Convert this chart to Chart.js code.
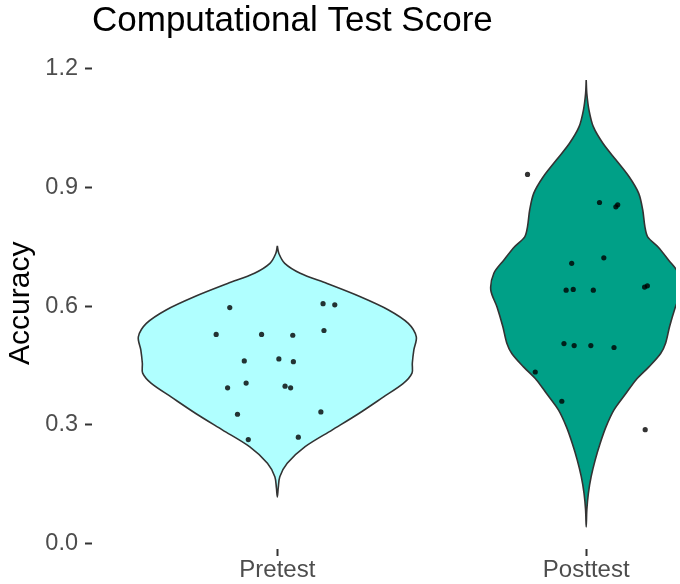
<!DOCTYPE html>
<html>
<head>
<meta charset="utf-8">
<script src="https://cdn.jsdelivr.net/npm/chart.js@4/dist/chart.umd.min.js"></script>
<style>
  html, body { margin: 0; padding: 0; background: #ffffff; overflow: hidden; }
  #wrap { width: 680px; height: 584px; }
</style>
</head>
<body>
<div id="wrap"><canvas id="c" width="680" height="584"></canvas></div>
<script>
// ---- data ----
const categories = ['Pretest', 'Posttest'];
const yTicks = [0, 0.3, 0.6, 0.9, 1.2];

const pretestScores = [0.596, 0.606, 0.603, 0.528, 0.528, 0.526, 0.538, 0.461, 0.466, 0.459, 0.393, 0.405, 0.397, 0.393, 0.326, 0.332, 0.262, 0.268];
const pretestJitter = [-0.154, 0.148, 0.186, -0.198, -0.051, 0.050, 0.151, -0.107, 0.005, 0.052, -0.161, -0.101, 0.025, 0.043, -0.129, 0.141, -0.094, 0.068];

const posttestScores = [0.933, 0.862, 0.851, 0.856, 0.722, 0.708, 0.640, 0.642, 0.640, 0.648, 0.651, 0.505, 0.500, 0.500, 0.495, 0.433, 0.359, 0.287];
const posttestJitter = [-0.190, 0.043, 0.096, 0.102, 0.057, -0.047, -0.065, -0.042, 0.023, 0.189, 0.198, -0.072, -0.039, 0.015, 0.090, -0.165, -0.079, 0.191];

// violin outlines: accuracy level and half width (category units)
const pretestDensityY = [0.752, 0.733, 0.708, 0.683, 0.657, 0.624, 0.590, 0.556, 0.522, 0.489, 0.455, 0.430, 0.404, 0.370, 0.328, 0.286, 0.244, 0.202, 0.168, 0.140, 0.117];
const pretestHalfWidth = [0, 0.005, 0.024, 0.074, 0.161, 0.267, 0.360, 0.424, 0.450, 0.442, 0.437, 0.436, 0.408, 0.344, 0.264, 0.177, 0.090, 0.032, 0.008, 0.003, 0];

const posttestDensityY = [1.172, 1.138, 1.096, 1.054, 1.012, 0.970, 0.927, 0.885, 0.843, 0.801, 0.775, 0.750, 0.716, 0.683, 0.641, 0.598, 0.548, 0.506, 0.480, 0.446, 0.413, 0.379, 0.337, 0.294, 0.252, 0.210, 0.168, 0.126, 0.084, 0.041];
const posttestHalfWidth = [0, 0.002, 0.009, 0.023, 0.054, 0.096, 0.139, 0.170, 0.183, 0.190, 0.199, 0.232, 0.267, 0.299, 0.309, 0.289, 0.270, 0.257, 0.241, 0.203, 0.161, 0.129, 0.090, 0.064, 0.045, 0.029, 0.016, 0.007, 0.002, 0];

// ---- build datasets ----
function violinOutline(center, ys, hws) {
  const pts = [];
  for (let i = 0; i < ys.length; i++) pts.push({x: center + hws[i], y: ys[i]});
  for (let i = ys.length - 2; i >= 0; i--) pts.push({x: center - hws[i], y: ys[i]});
  return pts;
}
function jittered(center, scores, jit) {
  return scores.map((s, i) => ({x: center + jit[i], y: s}));
}

const FONT = '"Liberation Sans", Arial, Helvetica, sans-serif';
const outline = '#333333';
const dot = 'rgba(0,0,0,0.8)';

const datasets = [
  {
    label: 'Pretest violin',
    data: violinOutline(1, pretestDensityY, pretestHalfWidth),
    showLine: true, fill: 'shape', tension: 0.3,
    backgroundColor: '#B0FFFF', borderColor: outline, borderWidth: 1.6,
    pointRadius: 0, order: 2
  },
  {
    label: 'Posttest violin',
    data: violinOutline(2, posttestDensityY, posttestHalfWidth),
    showLine: true, fill: 'shape', tension: 0.3,
    backgroundColor: '#00A087', borderColor: outline, borderWidth: 1.6,
    pointRadius: 0, order: 2
  },
  {
    label: 'Pretest',
    data: jittered(1, pretestScores, pretestJitter),
    showLine: false, pointRadius: 2.6, pointBorderWidth: 0,
    pointBackgroundColor: dot, backgroundColor: dot, order: 0
  },
  {
    label: 'Posttest',
    data: jittered(2, posttestScores, posttestJitter),
    showLine: false, pointRadius: 2.6, pointBorderWidth: 0,
    pointBackgroundColor: dot, backgroundColor: dot, order: 0
  }
];

new Chart(document.getElementById('c'), {
  type: 'scatter',
  data: { datasets },
  options: {
    responsive: false,
    animation: false,
    events: [],
    layout: { padding: { left: 0, right: 0, top: 0, bottom: 0 } },
    plugins: {
      legend: { display: false },
      tooltip: { enabled: false },
      title: {
        display: true,
        text: 'Computational Test Score',
        align: 'start',
        fullSize: false,
        color: '#000000',
        font: { family: FONT, size: 35, weight: 'normal', lineHeight: 1.2 },
        padding: { top: 0, bottom: 15.5 }
      }
    },
    scales: {
      x: {
        type: 'linear',
        min: 0.4,
        max: 2.2907,
        afterBuildTicks: (s) => { s.ticks = categories.map((c, i) => ({value: i + 1})); },
        afterFit: (s) => { s.height = 35; },
        ticks: {
          callback: (v) => categories[Math.round(v) - 1] || '',
          color: '#4D4D4D',
          font: { family: FONT, size: 24 },
          padding: 0,
          maxRotation: 0
        },
        grid: { display: true, drawOnChartArea: false, drawTicks: true, tickLength: 7, tickWidth: 2, tickColor: '#333333' },
        border: { display: false }
      },
      y: {
        type: 'linear',
        min: -0.015,
        max: 1.229,
        afterBuildTicks: (s) => { s.ticks = yTicks.map(v => ({value: v})); },
        afterFit: (s) => { s.width = 92; },
        ticks: {
          callback: (v) => Number(v).toFixed(1),
          color: '#4D4D4D',
          font: { family: FONT, size: 23.5 },
          padding: 7
        },
        title: {
          display: true,
          text: 'Accuracy',
          color: '#000000',
          font: { family: FONT, size: 30, lineHeight: 1.2 },
          padding: { top: 3, bottom: 0 }
        },
        grid: { display: true, drawOnChartArea: false, drawTicks: true, tickLength: 7, tickWidth: 2, tickColor: '#333333' },
        border: { display: false }
      }
    }
  }
});
</script>
</body>
</html>
